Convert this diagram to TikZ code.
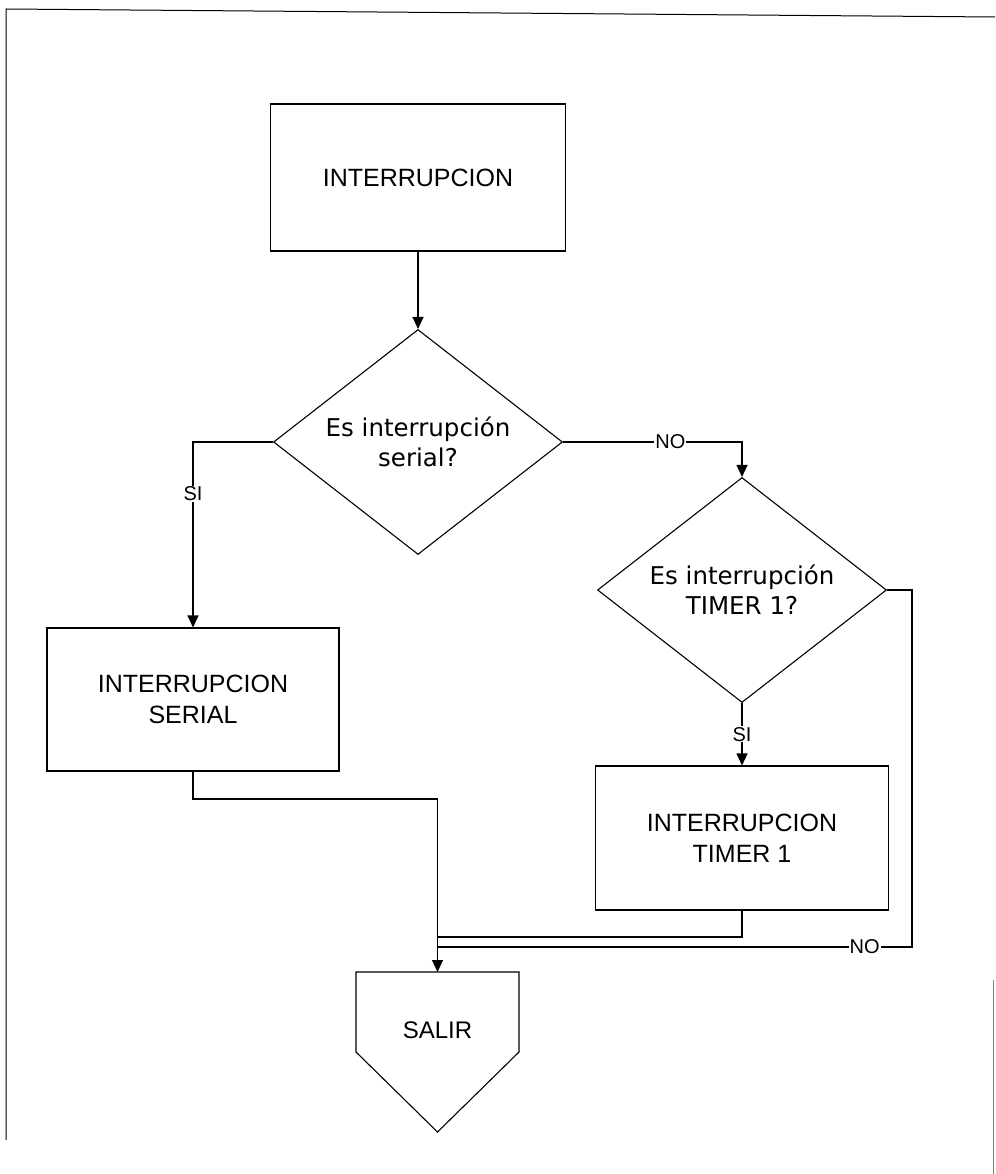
\documentclass[tikz,border=0pt]{standalone}
\usepackage{fontspec}
\setmainfont{Liberation Sans}
\newfontfamily\roundfont{DejaVu Sans}
\usetikzlibrary{arrows.meta}
\usetikzlibrary{shapes.geometric}

\begin{document}
\begin{tikzpicture}[x=1pt,y=-1pt,line width=1.1pt,
	caja/.style = {draw, rectangle, align=center, inner sep=0pt, font=\fontsize{25}{31}\selectfont},
	pregunta/.style = {draw, diamond, aspect=1.28, align=center, inner sep=0pt, minimum width=289pt, minimum height=225pt, font=\roundfont\fontsize{24.5}{30}\selectfont},
	flecha/.style = {-{Triangle[length=12pt,width=11pt]}},
	etiq/.style = {fill=white, inner sep=1pt, font=\fontsize{20}{20}\selectfont}]
					\useasboundingbox (0,0) rectangle (995,1174);
					% marco de la hoja
					\draw[line width=1pt] (6,1140) -- (6,9) -- (995,17);
					\draw[gray, line width=0.6pt] (993,980) -- (993,1174);
					\node[caja, minimum width=295pt, minimum height=147pt] (inicio) at (418,177.5) {INTERRUPCION};
					\node[pregunta] (serialq) at (418,442) {Es interrupción\\serial?};
					\node[pregunta] (timerq) at (742,590) {Es interrupción\\TIMER 1?};
					\node[caja, minimum width=292pt, minimum height=143pt] (serial) at (193,699.5) {INTERRUPCION\\SERIAL};
					\node[caja, minimum width=293pt, minimum height=144pt] (timer) at (742,838) {INTERRUPCION\\TIMER 1};
					\coordinate (cruce0) at (437.5,799);
					\coordinate (cruce1) at (437.5,937);
					\coordinate (cruce2) at (437.5,947);
					\coordinate (esquina) at (912,947);
					\coordinate (salir) at (437.5,972);
					\draw[flecha] (inicio) -- (serialq);
					\draw[flecha] (serialq.west) -| node[etiq, pos=0.64] {SI} (serial.north);
					\draw[flecha] (serialq.east) -| node[etiq, pos=0.3] {NO} (timerq.north);
					\draw[flecha] (timerq.south) -- node[etiq] {SI} (timer.north);
					\draw (timer.south) |- (cruce1);
					\draw (timerq.east) -| (esquina) -- node[etiq, pos=0.1] {NO} (cruce2);
					\draw (serial.south) |- (cruce0);
					\draw[flecha] (cruce0) -- (salir);
					% salida
					\draw (356,972) -- (519,972) -- (519,1052) -- (437.5,1132) -- (356,1052) -- cycle;
					\node[font=\fontsize{24}{24}\selectfont] (salirtxt) at (437.5,1030) {SALIR};
				\end{tikzpicture}
\end{document}
